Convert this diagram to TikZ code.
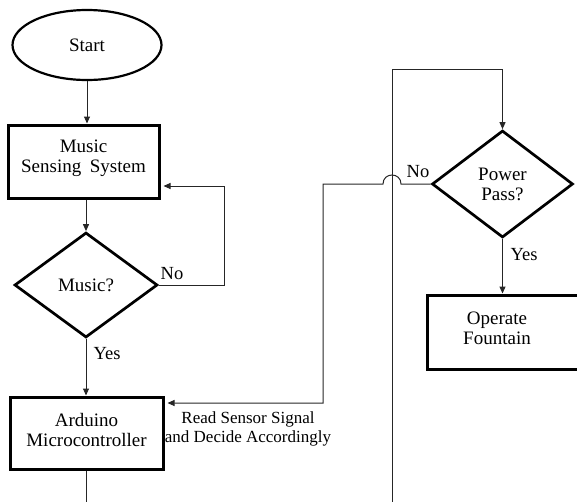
\documentclass[tikz,border=0pt]{standalone}
\usepackage{fontspec}
\setmainfont{Liberation Serif}
\usetikzlibrary{shapes.geometric,arrows.meta}
\begin{document}
\begin{tikzpicture}[x=1pt,y=-1pt,
  every node/.style={font=\fontsize{19}{20}\selectfont},
  procbox/.style={draw,line width=3pt,rectangle,align=center,inner sep=0pt},
  decision/.style={draw,line width=2.7pt,diamond,align=center,inner sep=0pt},
  flow/.style={line width=1pt,draw=black!85},
  arr/.style={flow,-{Triangle[length=7pt,width=6pt]}},
  lbl/.style={font=\fontsize{18.5}{20}\selectfont,inner sep=0pt}
]
\useasboundingbox (0,0) rectangle (577,501);
\clip (0,0) rectangle (577,501);

% left column
\node[ellipse,draw,line width=2.2pt,minimum width=149pt,minimum height=70pt,inner sep=0pt] (start) at (87,45) {Start};
\node[procbox,minimum width=151pt,minimum height=73pt] (mss) at (83.5,161.5) {};
\node[align=center,inner sep=0pt] (msstext) at (83.5,158) {Music\\Sensing\hspace{0.45em}System};
\node[decision,minimum width=143pt,minimum height=105pt] (music) at (86,285) {Music?};
\node[procbox,minimum width=153pt,minimum height=72pt] (ard) at (86.5,433) {};
\node[align=center,inner sep=0pt] (ardtext) at (86.5,429.5) {Arduino\\Microcontroller};

% right column
\node[decision,minimum width=141pt,minimum height=107pt] (power) at (502.5,184) {Power\\Pass?};
\node[procbox,minimum width=180pt,minimum height=74pt] (fountain) at (517,332) {};
\node[align=center,inner sep=0pt] (fountaintext) at (497,328) {Operate\\Fountain};

% connectors of the left column
\draw[arr] (start.south) -- (start.south |- mss.north);
\draw[arr] (music.north |- mss.south) -- (music.north);
\coordinate (musicloop) at (224,186);
\draw[arr,shorten >=3pt] (music.east) -| (musicloop) -- (musicloop -| mss.east);
\node[lbl] (nomusic) at (172,274) {No};
\draw[arr] (music.south) -- (music.south |- ard.north);
\node[lbl] (yesmusic) at (107,354) {Yes};
\coordinate (ardout) at (87,505);
\draw[flow] (ard.south) -- (ard.south |- ardout);

% power check back to the controller, hopping over the loop line
\coordinate (hopR) at (401,184);
\coordinate (hopL) at (383,184);
\coordinate (signalcorner) at (323,184);
\coordinate (signalturn) at (323,403);
\draw[arr,shorten >=3pt] (power.west) -- (hopR) .. controls (401,172) and (383,172) .. (hopL)
  -- (signalcorner) -- (signalturn) -- (signalturn -| ard.east);
\node[lbl] (nopower) at (418,172) {No};
\node[font=\fontsize{17}{19}\selectfont,align=center,inner sep=0pt] (signallabel) at (248,429) {Read Sensor Signal\\and Decide Accordingly};

% loop into the power check
\coordinate (loopbottom) at (392,505);
\coordinate (looptop) at (392,69);
\draw[arr] (loopbottom) -- (looptop) -| (power.north);
\draw[arr] (power.south) -- (power.south |- fountain.north);
\node[lbl] (yespower) at (524,255) {Yes};
\end{tikzpicture}
\end{document}
